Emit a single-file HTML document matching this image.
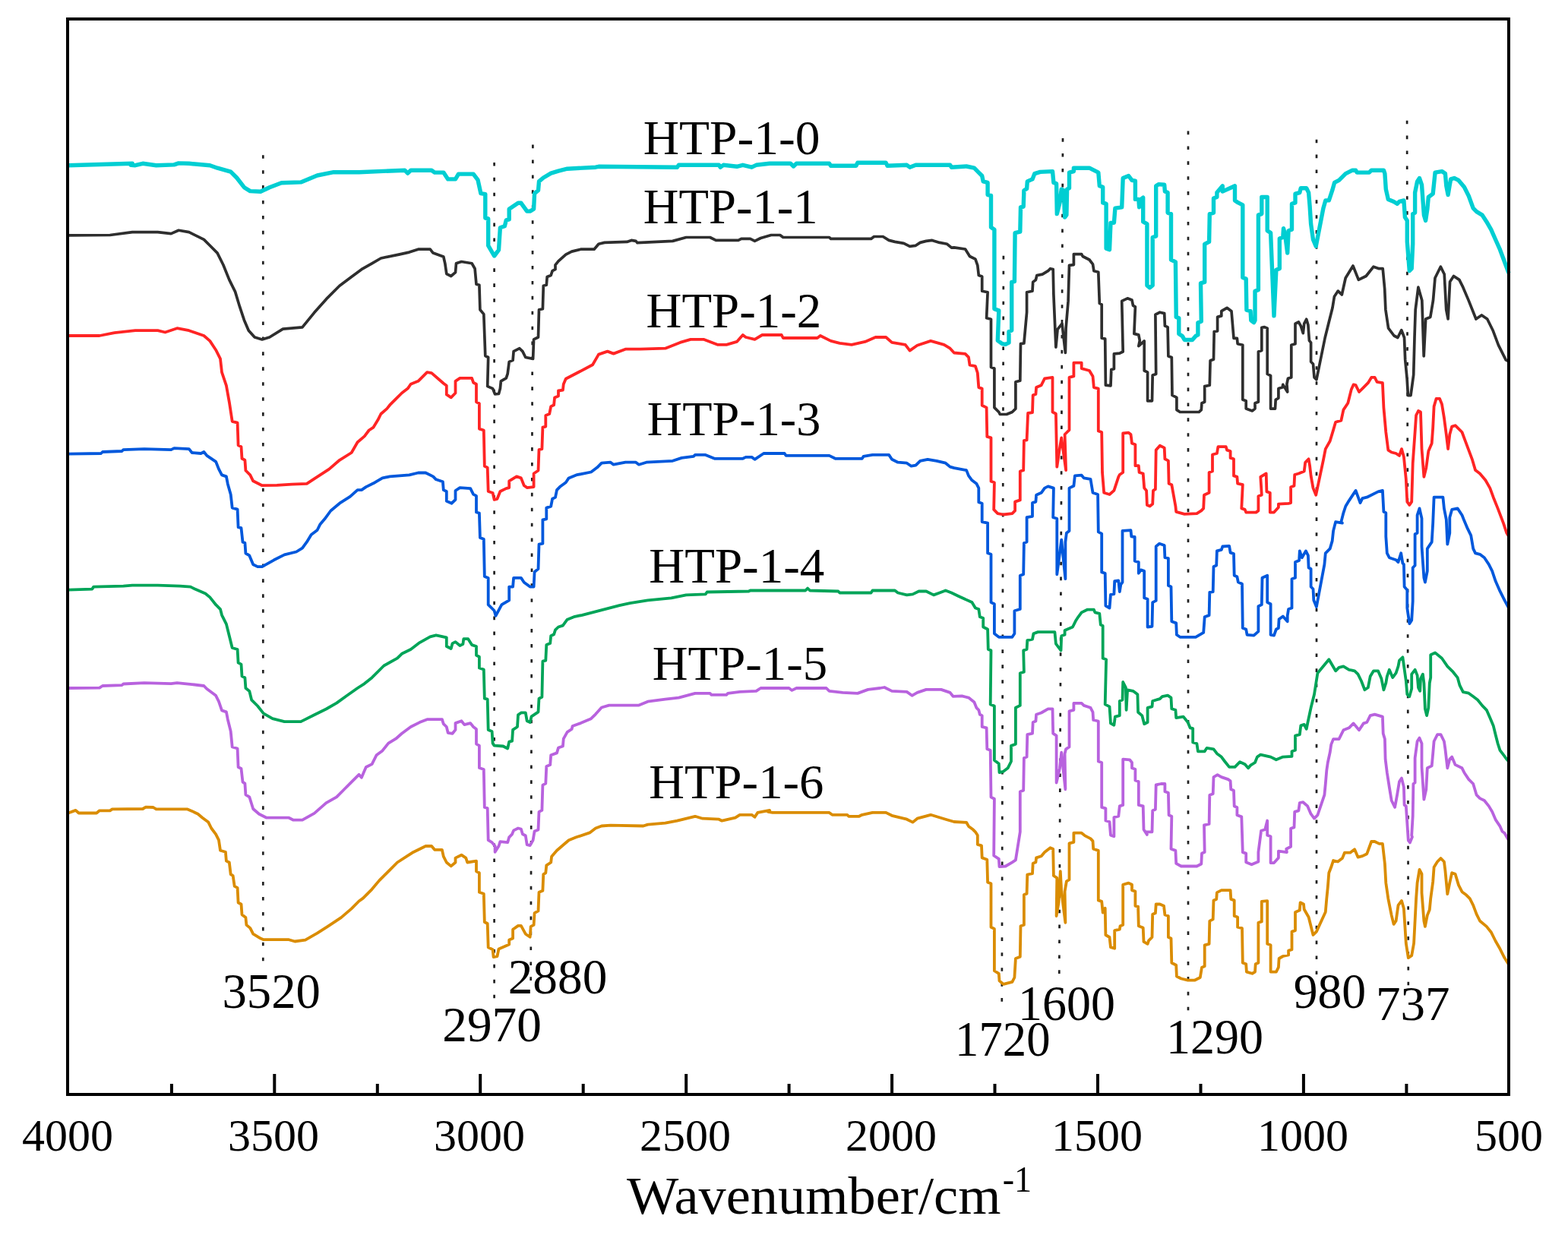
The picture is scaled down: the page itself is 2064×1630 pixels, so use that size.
<!DOCTYPE html>
<html><head><meta charset="utf-8"><title>FTIR spectra</title>
<style>html,body{margin:0;padding:0;background:#fff;} body{width:2064px;height:1630px;overflow:hidden;} svg{display:block;}</style>
</head><body>
<svg width="2064" height="1630" viewBox="0 0 2064 1630" font-family="'Liberation Serif', 'Times New Roman', serif" fill="#000"><line x1="346.3" y1="204.2" x2="346.3" y2="1265.3" stroke="#202020" stroke-width="2.7" stroke-dasharray="4.6 15.334"/>
<line x1="650.6" y1="213.9" x2="650.6" y2="1314.3" stroke="#202020" stroke-width="2.7" stroke-dasharray="4.6 15.324"/>
<line x1="701.4" y1="190.6" x2="698.7" y2="1290.9" stroke="#202020" stroke-width="2.7" stroke-dasharray="4.6 15.322"/>
<line x1="1320.9" y1="336.8" x2="1318.8" y2="1318.7" stroke="#202020" stroke-width="2.7" stroke-dasharray="4.6 15.345"/>
<line x1="1399" y1="182.1" x2="1394.3" y2="1281.9" stroke="#202020" stroke-width="2.7" stroke-dasharray="4.6 15.313"/>
<line x1="1564" y1="172.6" x2="1564" y2="1330.3" stroke="#202020" stroke-width="2.7" stroke-dasharray="4.6 15.281"/>
<line x1="1733" y1="183.7" x2="1733" y2="1283.0" stroke="#202020" stroke-width="2.7" stroke-dasharray="4.6 15.304"/>
<line x1="1852.1" y1="158.7" x2="1853.8" y2="1297.3" stroke="#202020" stroke-width="2.7" stroke-dasharray="4.6 15.295"/>
<path d="M89.8,217.7 L174.2,215.3 L172.2,217.3 L178.1,217.7 L187.9,215.3 L205.6,217.7 L229.2,216.9 L235.1,214.9 L248.8,215.3 L276.3,217.7 L286.1,221.2 L303.7,226.1 L311.6,234.0 L321.4,246.7 L329.3,251.6 L343.0,252.2 L354.8,246.7 L370.5,240.8 L396.0,239.9 L417.6,231.0 L439.2,226.7 L472.5,226.7 L532.8,224.2 L536.7,228.1 L540.7,224.2 L568.1,224.2 L572.1,227.1 L583.8,227.1 L589.7,235.9 L599.5,235.9 L603.5,229.1 L623.1,229.1 L629.0,236.9 L632.9,254.6 L638.8,255.6 L638.8,287.0 L642.7,287.9 L642.7,323.3 L650.6,337.0 L656.5,329.2 L658.4,299.7 L664.3,297.8 L666.3,289.9 L670.2,288.9 L670.2,275.2 L682.0,267.3 L685.9,267.3 L693.7,278.1 L697.7,278.1 L702.6,275.2 L703.6,254.6 L708.5,250.7 L709.5,238.9 L715.3,234.0 L725.2,228.1 L735.0,225.1 L746.7,222.2 L784.0,220.2 L788.0,219.3 L891.4,220.2 L893.4,217.3 L946.4,217.3 L948.3,220.2 L952.2,217.3 L969.9,219.3 L977.8,217.3 L989.5,220.2 L995.4,217.3 L1013.1,215.3 L1040.6,215.3 L1044.5,218.9 L1048.4,215.3 L1091.6,215.3 L1093.6,218.3 L1126.9,218.3 L1128.9,214.3 L1166.2,214.3 L1168.1,218.3 L1193.7,217.3 L1197.6,220.2 L1205.4,217.3 L1250.6,217.3 L1252.5,220.2 L1272.1,219.0 L1282.4,221.2 L1288.3,227.1 L1292.7,231.5 L1294.2,238.9 L1300.1,240.4 L1300.1,256.6 L1304.5,257.3 L1304.5,299.3 L1308.9,302.2 L1308.9,406.7 L1314.8,408.9 L1313.3,448.3 L1319.2,452.7 L1323.6,453.4 L1328.0,451.2 L1328.0,436.5 L1331.7,435.0 L1331.7,371.4 L1335.4,370.7 L1336.1,306.6 L1342.8,305.1 L1343.5,272.8 L1347.2,272.0 L1347.9,250.7 L1351.6,248.5 L1352.3,238.9 L1359.0,235.9 L1361.9,228.6 L1369.3,226.4 L1385.5,225.6 L1386.9,240.4 L1390.6,241.8 L1391.3,281.6 L1395.0,266.9 L1397.2,249.2 L1400.2,250.7 L1401.6,286.0 L1403.9,283.1 L1404.6,249.2 L1407.5,247.7 L1407.5,227.1 L1413.4,225.6 L1413.4,221.2 L1434.0,221.2 L1439.9,224.2 L1445.8,227.1 L1447.3,244.8 L1451.7,246.3 L1451.7,266.9 L1456.1,268.3 L1456.1,327.2 L1460.5,328.7 L1462.0,293.4 L1466.4,293.4 L1467.9,274.2 L1476.7,272.8 L1478.2,234.5 L1485.6,231.5 L1490.0,237.4 L1494.4,238.2 L1494.4,262.4 L1498.8,262.4 L1499.6,272.8 L1501.8,262.4 L1504.7,260.2 L1504.7,291.9 L1509.9,294.8 L1509.9,375.8 L1513.6,378.8 L1517.2,375.8 L1517.2,312.5 L1521.7,311.0 L1521.7,244.8 L1525.3,242.6 L1532.7,243.3 L1533.4,252.1 L1537.1,253.6 L1537.1,280.1 L1541.5,281.6 L1541.5,342.0 L1547.4,344.9 L1548.2,414.1 L1548.2,417.4 L1551.8,418.8 L1551.8,439.4 L1556.3,442.4 L1559.2,447.5 L1569.5,447.5 L1573.9,442.4 L1576.9,440.9 L1576.9,424.7 L1581.3,423.3 L1580.5,372.9 L1585.7,371.4 L1585.7,321.3 L1591.6,318.4 L1592.3,281.6 L1597.5,280.1 L1597.5,261.0 L1601.9,259.5 L1601.9,253.6 L1609.3,244.8 L1609.3,252.1 L1625.5,244.8 L1625.5,263.9 L1629.9,266.9 L1635.8,269.8 L1635.8,365.5 L1640.2,367.0 L1640.9,408.2 L1646.1,409.7 L1646.8,421.8 L1650.5,424.7 L1652.0,421.8 L1652.0,383.2 L1656.4,381.7 L1656.4,283.1 L1660.8,281.6 L1660.8,259.5 L1668.2,259.5 L1668.2,303.7 L1672.6,306.6 L1677.0,415.9 L1679.9,355.2 L1684.3,353.7 L1684.3,314.0 L1688.8,312.5 L1689.5,300.7 L1691.7,309.6 L1694.7,333.1 L1696.1,303.7 L1700.5,302.2 L1700.5,268.3 L1705.0,266.9 L1705.0,255.1 L1710.8,253.6 L1712.3,247.7 L1719.7,247.7 L1722.6,253.6 L1724.1,271.3 L1725.6,294.8 L1728.5,315.5 L1732.2,324.3 L1741.9,274.2 L1744.8,263.9 L1749.3,263.9 L1753.7,250.7 L1756.6,240.4 L1762.5,237.4 L1771.3,228.6 L1780.2,224.2 L1784.6,224.2 L1786.1,227.1 L1802.3,227.1 L1805.2,224.2 L1815.5,224.2 L1821.4,224.2 L1822.9,228.6 L1824.3,249.2 L1827.3,262.4 L1834.6,265.4 L1839.1,268.3 L1842.0,265.4 L1847.9,263.9 L1849.4,286.0 L1852.3,290.4 L1852.3,318.4 L1855.3,356.7 L1858.2,353.7 L1859.7,321.3 L1859.7,281.6 L1862.6,280.1 L1862.6,253.6 L1865.6,238.9 L1868.5,234.5 L1871.5,243.3 L1874.4,283.1 L1876.6,290.4 L1878.8,275.7 L1880.3,259.5 L1886.2,255.1 L1887.6,241.8 L1889.1,227.1 L1898.0,225.6 L1902.4,228.6 L1903.8,244.8 L1906.1,256.6 L1908.3,243.3 L1909.7,235.9 L1914.2,234.5 L1920.0,237.4 L1927.4,246.3 L1933.3,258.0 L1939.2,274.2 L1943.6,278.6 L1951.0,283.1 L1956.8,291.9 L1962.7,302.2 L1968.6,315.5 L1974.5,328.7 L1978.9,340.5 L1983.3,352.3 L1986.0,359.6" fill="none" stroke="#00CED2" stroke-width="5.4" stroke-linejoin="round" stroke-linecap="butt"/>
<path d="M89.8,309.9 L144.8,309.5 L174.2,305.6 L207.6,305.6 L225.2,307.6 L235.1,303.3 L248.8,305.6 L268.4,315.4 L276.3,323.3 L286.1,333.1 L293.9,348.8 L301.8,368.4 L309.6,384.1 L315.5,403.7 L321.4,421.4 L327.3,435.2 L335.2,444.0 L345.0,446.9 L354.8,444.0 L372.4,433.2 L398.0,430.8 L413.7,411.6 L429.4,393.9 L447.0,376.3 L462.7,364.5 L475.9,354.7 L489.6,346.8 L501.4,340.0 L525.0,335.1 L538.7,332.1 L550.5,328.2 L566.2,328.2 L570.1,333.1 L583.8,338.0 L585.8,346.8 L587.8,360.6 L593.7,363.5 L599.5,358.6 L600.5,346.8 L607.4,344.5 L621.1,346.8 L625.1,353.7 L627.0,374.3 L630.9,375.3 L631.9,407.7 L636.8,413.6 L638.8,468.5 L642.7,470.5 L641.7,508.6 L648.6,511.6 L651.6,519.0 L656.5,518.5 L658.4,511.6 L659.4,501.8 L666.3,497.9 L668.2,492.1 L670.2,476.4 L675.1,474.4 L676.1,462.6 L683.9,458.7 L687.9,462.6 L691.8,470.5 L701.6,472.4 L702.6,446.9 L708.5,444.0 L709.5,407.7 L714.4,406.7 L715.3,376.3 L719.3,375.3 L720.2,364.5 L725.2,362.5 L727.1,356.6 L731.0,354.7 L731.0,348.8 L735.0,343.9 L744.8,335.1 L752.6,331.1 L764.4,328.2 L782.1,328.2 L788.0,321.3 L795.8,319.4 L825.3,318.4 L831.1,316.4 L837.0,317.4 L839.0,319.7 L885.5,317.4 L903.2,312.5 L934.6,312.5 L942.4,316.4 L971.9,316.4 L975.8,314.4 L987.6,314.4 L993.5,317.4 L1001.3,313.5 L1015.1,309.5 L1026.8,309.5 L1030.8,312.5 L1091.6,312.5 L1093.6,314.4 L1146.6,314.4 L1150.5,311.5 L1162.3,311.5 L1170.1,316.4 L1178.0,318.4 L1189.7,320.3 L1197.6,324.3 L1205.4,323.3 L1211.3,319.4 L1219.2,317.4 L1227.0,316.4 L1236.8,319.4 L1246.7,321.3 L1252.5,326.2 L1255.9,325.8 L1270.6,328.0 L1276.5,337.5 L1283.9,341.2 L1286.8,349.3 L1288.3,362.6 L1292.7,364.0 L1292.7,383.2 L1300.1,384.7 L1298.6,418.8 L1304.5,420.3 L1304.5,483.6 L1308.9,485.1 L1308.9,536.6 L1314.8,542.5 L1316.3,545.5 L1325.1,545.5 L1332.4,542.5 L1336.9,538.1 L1336.9,502.8 L1342.8,501.3 L1343.5,452.7 L1347.9,452.0 L1351.6,411.2 L1351.6,384.7 L1359.0,383.2 L1359.7,371.4 L1363.4,368.5 L1364.8,362.6 L1372.2,361.1 L1379.6,356.7 L1382.5,353.7 L1386.2,354.5 L1386.9,387.6 L1389.9,457.1 L1392.1,433.6 L1398.0,426.2 L1402.4,464.5 L1403.1,432.1 L1406.1,396.4 L1407.5,349.3 L1413.4,348.6 L1413.4,334.6 L1423.7,334.6 L1425.2,337.5 L1434.0,342.0 L1438.5,347.8 L1439.9,356.7 L1445.8,358.2 L1447.3,399.4 L1450.2,400.8 L1450.2,445.3 L1454.7,446.1 L1455.4,507.2 L1462.0,507.9 L1462.8,486.6 L1466.4,485.8 L1466.4,465.9 L1473.8,465.2 L1478.2,463.0 L1476.7,396.4 L1484.1,392.8 L1490.0,395.0 L1491.5,402.3 L1494.4,403.8 L1492.9,439.4 L1498.8,440.9 L1500.3,448.3 L1498.8,455.6 L1506.2,449.0 L1506.2,488.0 L1510.6,490.2 L1510.6,527.8 L1516.5,527.8 L1517.2,493.9 L1521.7,492.4 L1520.9,414.1 L1526.8,411.2 L1532.7,412.6 L1533.4,429.1 L1537.1,430.6 L1537.9,468.9 L1542.3,470.4 L1543.0,520.4 L1548.9,523.4 L1548.9,539.6 L1553.3,542.5 L1578.3,542.5 L1581.3,539.6 L1582.0,530.7 L1585.7,529.3 L1585.7,508.6 L1592.3,507.2 L1593.1,474.8 L1597.5,473.3 L1598.2,436.5 L1602.6,435.8 L1602.6,417.4 L1607.8,415.9 L1607.8,409.7 L1615.1,405.3 L1621.0,409.7 L1624.0,445.3 L1628.4,445.3 L1629.1,452.7 L1635.8,454.2 L1635.8,526.3 L1640.2,527.8 L1640.2,538.1 L1648.3,541.0 L1652.0,538.1 L1652.0,530.7 L1656.4,529.3 L1656.4,463.0 L1660.8,461.5 L1660.8,431.3 L1664.5,430.6 L1668.2,432.1 L1668.2,492.4 L1672.6,494.7 L1672.6,538.1 L1678.5,538.1 L1679.2,526.3 L1682.9,524.1 L1682.9,511.6 L1688.0,510.1 L1688.8,506.4 L1694.7,516.0 L1693.9,505.7 L1695.4,498.3 L1699.8,496.9 L1699.8,454.2 L1705.0,452.7 L1705.0,426.2 L1709.4,424.0 L1712.3,429.1 L1715.3,438.7 L1716.7,426.2 L1719.7,420.3 L1721.9,427.7 L1723.4,448.3 L1725.6,451.2 L1725.6,476.3 L1728.5,479.2 L1730.0,496.9 L1732.9,499.8 L1744.2,444.5 L1749.1,424.8 L1754.0,405.2 L1756.4,390.5 L1761.3,383.1 L1766.3,388.0 L1771.2,366.0 L1781.0,350.0 L1788.3,368.4 L1798.2,363.5 L1808.0,351.2 L1815.3,353.7 L1820.2,353.7 L1822.7,380.7 L1823.9,407.7 L1827.6,432.2 L1835.0,442.0 L1839.9,444.5 L1844.8,434.7 L1848.5,444.5 L1849.7,473.9 L1852.1,498.5 L1853.4,520.6 L1857.0,520.6 L1860.7,493.6 L1862.0,444.5 L1863.2,407.7 L1866.9,378.2 L1871.8,395.4 L1874.2,469.0 L1876.7,420.0 L1882.8,417.5 L1886.5,395.4 L1889.0,366.0 L1896.3,351.2 L1901.2,361.0 L1903.7,407.7 L1906.1,420.0 L1908.6,370.9 L1913.5,363.5 L1920.9,368.4 L1925.8,378.2 L1933.1,395.4 L1942.9,420.0 L1950.3,415.0 L1957.7,420.0 L1965.0,434.7 L1972.4,454.3 L1982.2,473.9 L1986.0,476.0" fill="none" stroke="#2E2E2E" stroke-width="3.7" stroke-linejoin="round" stroke-linecap="butt"/>
<path d="M89.8,442.0 L131.0,442.0 L150.7,438.1 L178.1,435.2 L207.6,435.2 L217.4,437.5 L233.1,432.2 L248.8,435.2 L268.4,442.0 L276.3,448.9 L284.1,460.7 L290.0,472.4 L292.0,490.1 L297.9,507.7 L301.8,529.3 L305.7,554.8 L312.6,556.7 L313.6,586.2 L317.5,588.1 L318.5,603.8 L322.4,605.8 L323.4,619.5 L329.3,625.4 L333.2,633.3 L345.0,639.2 L364.6,638.8 L384.2,637.6 L403.8,636.8 L413.7,630.3 L433.3,617.6 L447.0,605.8 L462.7,596.0 L470.6,582.2 L479.8,574.4 L485.7,566.5 L491.6,562.6 L497.5,552.8 L501.4,545.0 L509.3,538.1 L513.2,533.2 L521.0,525.3 L528.9,517.5 L536.7,511.6 L540.7,505.7 L550.5,501.8 L562.2,490.1 L568.1,491.1 L583.8,504.7 L587.8,507.7 L587.8,519.4 L593.7,523.4 L599.5,517.5 L599.5,501.8 L605.4,497.9 L621.1,497.9 L623.1,503.7 L627.0,505.7 L627.0,529.3 L630.9,531.2 L630.9,564.6 L636.8,566.5 L637.8,613.7 L641.7,615.6 L642.7,647.0 L648.6,649.0 L650.6,657.8 L654.5,656.8 L658.4,647.0 L666.3,643.1 L670.2,642.1 L670.2,633.3 L680.0,627.4 L685.9,629.4 L689.8,639.2 L693.7,642.1 L702.6,641.1 L702.6,623.5 L708.5,619.5 L709.5,592.1 L713.4,591.1 L714.4,562.6 L718.3,561.6 L718.3,546.9 L723.2,545.0 L725.2,535.1 L729.1,533.2 L730.1,523.4 L735.0,521.4 L735.0,514.5 L740.9,513.6 L741.8,505.7 L744.8,498.8 L780.1,480.3 L788.0,466.6 L799.7,462.6 L807.6,465.6 L823.3,459.7 L842.9,459.7 L875.7,458.7 L895.3,450.9 L909.1,446.9 L926.7,446.9 L944.4,453.8 L956.2,453.8 L969.9,449.9 L977.8,441.0 L981.7,444.0 L993.5,446.9 L1003.3,441.0 L1028.8,441.0 L1030.8,445.0 L1075.9,445.0 L1079.8,442.0 L1093.6,448.9 L1105.3,451.8 L1121.0,453.8 L1138.7,449.9 L1152.4,444.0 L1166.2,444.0 L1174.0,450.9 L1191.7,453.8 L1197.6,461.6 L1207.4,454.8 L1225.1,448.9 L1242.7,453.8 L1250.6,458.7 L1255.9,464.5 L1270.6,465.9 L1275.0,470.4 L1276.5,480.7 L1283.9,482.1 L1286.8,491.0 L1288.3,510.1 L1292.7,511.6 L1292.7,533.7 L1298.6,536.6 L1299.3,574.9 L1304.5,576.4 L1304.5,633.8 L1308.9,635.3 L1308.2,670.9 L1313.3,676.1 L1320.7,677.5 L1332.4,676.1 L1336.1,672.4 L1336.1,660.6 L1342.8,658.4 L1342.8,620.5 L1347.2,619.1 L1347.9,580.1 L1351.6,579.3 L1353.1,544.0 L1359.0,543.2 L1359.7,520.4 L1363.4,519.0 L1364.1,510.1 L1370.7,507.2 L1375.1,498.3 L1385.5,496.9 L1385.5,542.5 L1389.9,544.7 L1391.3,614.7 L1394.3,594.0 L1397.2,576.4 L1403.1,619.1 L1401.6,572.0 L1404.6,569.0 L1407.5,566.1 L1407.5,496.9 L1413.4,495.4 L1413.4,477.7 L1423.7,477.7 L1423.7,485.1 L1434.0,488.0 L1438.5,495.4 L1439.9,510.1 L1445.8,511.6 L1445.8,567.5 L1450.2,569.0 L1451.0,622.0 L1453.2,648.8 L1460.5,651.0 L1466.4,645.9 L1472.3,627.9 L1473.8,625.0 L1478.2,622.0 L1478.2,570.5 L1485.6,569.7 L1488.5,572.0 L1490.0,583.7 L1494.4,585.2 L1494.4,613.2 L1498.8,613.2 L1499.6,622.0 L1504.7,623.5 L1506.2,642.6 L1509.1,645.9 L1509.9,665.0 L1513.6,666.5 L1517.2,663.6 L1518.0,645.9 L1520.9,644.1 L1521.7,592.6 L1526.8,586.7 L1532.7,589.6 L1533.4,604.3 L1537.9,606.6 L1538.6,636.7 L1542.3,638.2 L1547.4,666.5 L1548.2,673.9 L1559.2,676.8 L1575.4,676.1 L1581.3,672.4 L1584.2,669.4 L1585.0,651.8 L1591.6,648.8 L1591.6,622.0 L1596.0,620.5 L1596.0,598.5 L1601.9,597.0 L1603.4,588.2 L1613.7,588.2 L1615.1,592.6 L1619.6,594.0 L1619.6,602.9 L1624.0,604.3 L1624.0,626.4 L1628.4,627.9 L1629.1,636.7 L1635.8,638.2 L1634.3,669.4 L1638.7,670.9 L1640.2,674.6 L1653.4,674.6 L1656.4,672.4 L1656.4,653.3 L1660.8,651.8 L1659.3,627.9 L1666.7,623.5 L1667.4,647.4 L1671.8,648.8 L1671.8,674.6 L1677.0,674.6 L1682.9,668.0 L1682.9,663.6 L1696.1,662.8 L1699.1,662.1 L1699.1,641.2 L1703.5,639.7 L1704.2,625.0 L1709.4,623.5 L1716.7,620.5 L1718.2,608.8 L1722.6,604.3 L1724.1,613.2 L1725.6,626.4 L1728.5,642.6 L1732.2,651.8 L1741.9,605.8 L1744.8,591.1 L1750.7,580.8 L1755.1,566.1 L1758.1,555.8 L1765.4,553.6 L1768.4,539.6 L1774.3,530.7 L1778.7,513.1 L1781.6,506.4 L1784.6,507.2 L1789.0,516.0 L1794.9,510.1 L1800.8,504.2 L1805.2,496.9 L1809.6,496.9 L1812.6,502.8 L1819.9,504.2 L1821.4,536.6 L1824.3,569.0 L1827.3,592.6 L1831.7,595.5 L1837.6,597.0 L1842.0,599.9 L1845.0,591.1 L1847.9,601.4 L1850.8,630.8 L1852.3,660.6 L1855.3,665.0 L1858.2,660.6 L1859.7,610.2 L1862.6,569.0 L1864.1,546.9 L1867.0,541.0 L1870.0,542.5 L1871.5,591.1 L1874.4,627.9 L1877.3,616.1 L1880.3,594.0 L1884.7,583.7 L1886.2,563.1 L1887.6,535.1 L1890.6,524.8 L1895.0,524.8 L1898.0,532.2 L1900.9,549.9 L1903.8,572.0 L1906.1,591.1 L1908.3,572.0 L1911.2,561.6 L1915.6,560.2 L1924.5,569.0 L1928.9,580.8 L1933.3,592.6 L1937.7,604.3 L1942.1,619.1 L1948.0,623.5 L1955.4,632.3 L1961.3,642.6 L1965.7,654.7 L1971.6,669.4 L1978.9,688.6 L1983.3,701.8 L1986.0,706.3" fill="none" stroke="#FF2424" stroke-width="3.8" stroke-linejoin="round" stroke-linecap="butt"/>
<path d="M89.8,597.6 L133.0,597.0 L135.0,595.0 L160.5,594.0 L162.4,592.1 L189.9,591.1 L225.2,592.1 L229.2,590.1 L248.8,591.1 L252.7,596.0 L264.5,597.0 L268.4,595.0 L272.3,599.9 L284.1,607.8 L288.0,617.6 L292.0,625.4 L297.9,627.4 L299.8,637.2 L303.7,650.9 L305.7,668.6 L312.6,670.6 L313.6,694.1 L317.5,695.1 L319.5,713.7 L322.4,714.7 L323.4,728.5 L328.3,731.4 L333.2,743.2 L339.1,746.1 L345.0,746.1 L360.7,737.3 L374.4,730.4 L390.1,726.5 L398.0,721.6 L403.8,713.7 L409.7,703.9 L417.6,698.0 L421.5,690.2 L427.4,683.3 L435.3,672.5 L447.0,662.7 L460.8,653.9 L470.6,645.1 L475.9,645.1 L481.8,641.1 L493.6,635.2 L503.4,629.4 L513.2,627.4 L538.7,625.4 L550.5,622.5 L560.3,622.5 L570.1,627.4 L574.0,631.3 L582.9,634.3 L583.8,645.1 L587.8,647.0 L587.8,659.8 L594.6,662.7 L599.5,657.8 L599.5,646.0 L605.4,642.1 L619.2,643.1 L623.1,650.9 L627.0,652.9 L627.0,674.5 L630.9,675.5 L631.9,707.9 L636.8,709.8 L637.8,758.9 L642.7,760.9 L642.7,796.2 L650.6,804.0 L652.5,810.8 L660.4,796.2 L670.2,790.3 L670.2,772.6 L675.1,772.6 L676.1,760.9 L685.9,760.9 L689.8,766.7 L697.7,772.6 L702.6,772.6 L703.6,753.0 L708.5,749.1 L709.5,716.7 L714.4,715.7 L714.4,684.3 L719.3,683.3 L719.3,668.6 L725.2,666.6 L727.1,656.8 L731.0,654.9 L733.0,645.1 L736.9,641.1 L744.8,635.2 L748.7,629.4 L758.5,625.4 L778.1,621.5 L786.0,615.6 L791.9,609.7 L803.7,608.7 L807.6,611.7 L823.3,608.7 L837.0,608.7 L841.0,611.7 L850.8,608.7 L885.5,606.8 L897.3,602.9 L913.0,600.9 L915.0,598.9 L928.7,598.9 L940.5,603.8 L977.8,603.8 L981.7,601.9 L989.5,601.9 L993.5,604.8 L1005.2,597.0 L1032.7,597.0 L1034.7,599.9 L1091.6,599.9 L1099.5,603.8 L1134.8,603.8 L1136.7,600.9 L1148.5,598.9 L1170.1,598.9 L1174.0,604.8 L1181.9,608.7 L1193.7,609.7 L1199.5,613.7 L1205.4,612.7 L1211.3,606.8 L1221.1,604.8 L1232.9,606.8 L1244.7,609.7 L1250.6,614.6 L1255.9,616.1 L1272.1,619.1 L1275.0,626.4 L1279.4,632.3 L1285.3,636.7 L1288.3,642.6 L1288.3,645.9 L1288.3,661.3 L1292.7,662.8 L1292.7,687.1 L1300.1,688.6 L1300.1,728.3 L1304.5,729.8 L1304.5,793.1 L1308.9,795.3 L1308.9,834.3 L1314.8,838.8 L1332.4,838.8 L1335.4,834.3 L1335.4,804.2 L1342.8,802.0 L1342.8,757.8 L1347.2,756.3 L1347.9,715.1 L1351.6,713.6 L1351.6,681.2 L1359.0,679.8 L1359.0,662.1 L1363.4,660.6 L1364.1,651.8 L1370.7,648.8 L1375.1,642.6 L1379.6,640.4 L1386.9,642.6 L1386.2,681.2 L1391.3,682.7 L1391.3,756.3 L1395.0,728.3 L1397.2,710.7 L1402.4,762.2 L1402.4,713.6 L1403.9,701.8 L1407.5,698.9 L1407.5,642.6 L1413.4,639.7 L1414.9,626.4 L1423.7,625.7 L1426.7,629.4 L1435.5,630.8 L1438.5,648.8 L1445.1,651.0 L1445.8,700.4 L1450.2,702.6 L1450.2,753.4 L1454.7,754.8 L1455.4,797.5 L1460.5,800.5 L1462.0,782.8 L1466.4,782.1 L1467.2,765.1 L1472.3,764.4 L1473.8,779.1 L1475.3,769.6 L1477.5,766.6 L1477.5,698.9 L1488.5,698.2 L1489.3,706.3 L1493.7,707.0 L1493.7,738.6 L1498.8,740.1 L1498.8,754.8 L1501.8,750.4 L1506.2,751.9 L1506.2,787.2 L1510.6,788.7 L1510.6,825.5 L1516.5,824.8 L1517.2,793.1 L1521.7,790.9 L1521.7,719.5 L1526.1,715.8 L1532.7,718.0 L1533.4,734.2 L1537.9,735.0 L1537.9,771.0 L1541.5,772.5 L1542.3,818.2 L1548.2,820.4 L1548.9,835.8 L1553.3,838.8 L1573.9,838.8 L1584.2,832.9 L1585.7,812.3 L1591.6,810.1 L1592.3,779.9 L1596.7,779.1 L1597.5,746.0 L1601.2,744.5 L1601.9,725.4 L1607.8,723.9 L1609.3,719.5 L1618.1,718.8 L1619.6,727.6 L1624.0,729.1 L1624.7,757.8 L1628.4,759.3 L1629.9,766.6 L1635.0,768.8 L1635.8,827.0 L1640.2,828.5 L1641.6,835.8 L1650.5,836.6 L1656.4,831.4 L1656.4,798.3 L1660.8,796.1 L1661.5,760.7 L1668.2,757.8 L1668.2,793.1 L1672.6,795.3 L1672.6,835.8 L1677.0,836.6 L1679.9,828.5 L1682.9,827.0 L1683.6,815.2 L1688.8,811.5 L1694.7,818.2 L1694.7,810.8 L1696.1,802.0 L1700.5,800.5 L1700.5,762.2 L1705.0,760.7 L1705.0,740.1 L1710.1,737.9 L1710.8,725.4 L1713.8,734.2 L1718.9,725.4 L1721.9,731.3 L1722.6,747.5 L1725.6,749.0 L1725.6,772.5 L1728.5,775.5 L1729.3,790.2 L1732.9,799.0 L1743.4,743.1 L1744.8,728.3 L1750.7,722.4 L1753.7,712.1 L1755.1,698.9 L1758.1,687.1 L1766.9,688.6 L1765.4,687.1 L1768.4,675.3 L1771.3,666.5 L1775.8,659.1 L1784.6,645.9 L1790.5,662.1 L1793.4,656.2 L1799.3,654.7 L1814.0,647.4 L1819.9,645.9 L1821.4,673.9 L1824.3,675.3 L1824.3,706.3 L1825.8,728.3 L1828.8,734.2 L1837.6,737.2 L1840.5,740.1 L1844.2,728.3 L1846.4,741.6 L1847.9,743.1 L1848.6,772.5 L1852.3,776.9 L1852.3,800.5 L1855.3,821.1 L1858.2,816.7 L1859.7,791.6 L1859.7,747.5 L1862.6,744.5 L1862.6,703.3 L1865.6,701.8 L1865.6,678.3 L1868.5,669.4 L1871.5,682.7 L1871.5,719.5 L1874.4,760.7 L1875.9,766.6 L1878.8,751.9 L1878.8,722.4 L1884.7,713.6 L1886.2,688.6 L1887.6,654.7 L1899.4,654.7 L1900.9,669.4 L1903.8,684.2 L1905.3,716.6 L1908.3,701.8 L1908.3,681.2 L1911.2,670.9 L1918.6,669.4 L1924.5,678.3 L1927.4,685.6 L1931.8,695.9 L1936.2,704.8 L1939.2,722.4 L1942.1,728.3 L1948.0,729.8 L1953.9,734.2 L1959.8,743.1 L1964.2,751.9 L1968.6,765.1 L1974.5,778.4 L1980.4,790.2 L1986.0,800.5" fill="none" stroke="#0058DC" stroke-width="3.8" stroke-linejoin="round" stroke-linecap="butt"/>
<path d="M89.8,776.6 L121.2,775.6 L123.2,772.6 L162.4,771.6 L174.2,770.7 L207.6,770.7 L237.0,771.6 L250.8,772.6 L256.6,775.6 L270.4,781.5 L276.3,786.4 L284.1,796.2 L290.0,802.1 L292.0,809.8 L297.9,821.6 L301.8,837.3 L305.7,853.0 L312.6,855.0 L313.6,872.6 L317.5,874.6 L318.5,890.3 L322.4,892.2 L323.4,906.0 L328.3,909.9 L331.2,921.7 L339.1,929.5 L346.9,939.4 L358.7,946.2 L374.4,950.1 L396.0,950.1 L413.7,941.3 L429.4,933.5 L443.1,925.6 L456.8,915.8 L470.6,906.0 L479.8,900.1 L489.6,892.2 L505.3,876.5 L523.0,866.7 L528.9,860.8 L540.7,855.0 L552.4,846.1 L566.2,838.3 L574.0,836.3 L587.8,839.3 L587.8,851.0 L593.7,854.0 L595.6,847.1 L599.5,845.1 L605.4,850.0 L609.4,848.1 L610.3,841.2 L616.2,841.2 L621.1,849.1 L627.0,851.0 L627.0,862.8 L630.9,864.8 L630.9,879.5 L636.8,881.5 L637.8,919.7 L641.7,920.7 L642.7,960.9 L647.6,962.9 L648.6,978.6 L650.6,981.6 L662.3,982.5 L668.2,985.5 L670.2,976.6 L674.1,975.7 L675.1,960.9 L681.0,957.0 L682.0,941.3 L685.9,938.4 L691.8,938.4 L693.7,949.2 L697.7,951.1 L699.6,943.3 L708.5,937.4 L709.5,919.7 L713.4,917.8 L714.4,870.7 L718.3,869.7 L719.3,849.1 L724.2,847.1 L725.2,837.3 L729.1,835.3 L731.0,829.4 L735.0,825.5 L740.9,823.6 L746.7,815.7 L756.6,811.8 L766.4,809.8 L815.4,797.2 L829.2,794.2 L852.7,790.3 L883.6,787.4 L903.2,783.4 L928.7,782.4 L930.7,779.5 L985.6,778.5 L987.6,777.5 L1060.2,777.5 L1063.1,774.6 L1066.1,777.5 L1103.4,778.5 L1105.3,780.5 L1146.6,780.5 L1148.5,777.5 L1178.0,777.5 L1181.9,780.5 L1193.7,783.4 L1201.5,782.4 L1209.4,778.5 L1219.2,778.5 L1229.0,783.4 L1236.8,780.5 L1244.7,777.5 L1252.5,780.5 L1261.8,785.0 L1279.4,793.1 L1283.9,800.5 L1288.3,802.0 L1289.8,812.3 L1294.2,813.7 L1294.2,825.5 L1300.1,828.5 L1300.8,855.0 L1304.5,856.4 L1303.7,927.4 L1308.9,929.6 L1308.9,1001.0 L1314.8,1005.5 L1315.5,1017.2 L1320.7,1015.8 L1326.6,1011.3 L1331.0,1002.5 L1331.0,981.9 L1336.9,979.7 L1336.9,931.8 L1342.8,928.9 L1342.8,886.2 L1347.9,884.7 L1347.2,856.4 L1351.6,855.0 L1352.3,843.2 L1359.0,841.7 L1360.4,834.3 L1366.3,832.1 L1388.4,832.1 L1389.9,847.6 L1396.5,856.4 L1397.2,837.3 L1401.6,835.8 L1401.6,829.9 L1412.0,825.5 L1416.4,816.7 L1419.3,812.3 L1423.7,806.4 L1431.1,802.7 L1439.9,802.7 L1441.4,806.4 L1447.3,807.8 L1448.8,822.6 L1451.7,824.0 L1451.7,866.7 L1456.1,868.2 L1454.7,927.4 L1460.5,930.4 L1462.0,952.4 L1466.4,954.7 L1467.9,943.6 L1473.8,942.1 L1473.8,923.0 L1477.5,921.5 L1478.2,898.0 L1481.9,905.3 L1482.6,934.8 L1484.1,908.3 L1491.5,909.8 L1497.4,914.2 L1498.1,937.7 L1503.3,942.1 L1506.2,953.2 L1510.6,951.0 L1510.6,931.8 L1516.5,930.4 L1517.2,923.0 L1526.8,920.1 L1529.8,917.1 L1537.1,915.6 L1541.5,918.6 L1542.3,933.3 L1547.4,934.8 L1548.2,945.1 L1557.7,943.6 L1563.6,951.0 L1566.6,958.3 L1570.2,959.1 L1570.2,977.5 L1575.4,979.0 L1576.9,989.3 L1585.7,989.3 L1588.6,984.8 L1597.5,986.3 L1601.9,992.2 L1607.8,996.6 L1612.2,1002.5 L1618.1,1009.9 L1625.5,1009.9 L1632.1,1003.2 L1638.7,1006.2 L1643.1,1011.3 L1646.1,1007.7 L1652.0,1004.0 L1654.9,996.6 L1659.3,993.7 L1672.6,996.6 L1679.9,1000.3 L1688.8,996.6 L1700.5,995.9 L1700.5,989.3 L1705.0,987.8 L1705.0,968.6 L1710.8,967.2 L1712.3,955.4 L1716.7,953.9 L1719.7,959.8 L1721.2,952.4 L1725.6,931.8 L1730.0,914.2 L1734.4,886.2 L1749.3,868.2 L1758.1,883.3 L1762.5,878.8 L1768.4,877.4 L1775.8,881.8 L1783.1,883.3 L1787.5,887.7 L1791.9,896.5 L1796.4,908.3 L1800.8,905.3 L1803.7,890.6 L1808.1,883.3 L1814.0,883.3 L1818.4,893.6 L1821.4,908.3 L1824.3,899.4 L1825.8,890.6 L1828.8,881.8 L1833.2,892.1 L1837.6,886.2 L1840.5,877.4 L1842.0,869.7 L1846.4,865.3 L1850.8,896.5 L1852.3,914.2 L1855.3,917.1 L1858.2,906.8 L1858.2,887.7 L1862.6,881.8 L1865.6,889.1 L1867.0,905.3 L1869.2,909.8 L1870.0,893.6 L1872.9,887.7 L1874.4,899.4 L1875.9,933.3 L1878.1,942.1 L1880.3,931.8 L1881.8,899.4 L1883.2,892.1 L1883.2,862.3 L1889.1,859.4 L1898.0,866.7 L1905.3,877.4 L1912.7,884.7 L1918.6,892.1 L1921.5,902.4 L1925.9,911.2 L1933.3,912.7 L1939.2,917.1 L1945.1,921.5 L1951.0,928.9 L1956.8,934.8 L1961.3,945.1 L1965.7,955.4 L1968.6,967.2 L1971.6,979.0 L1974.5,987.8 L1978.9,993.7 L1983.3,999.6 L1986.0,1002.5" fill="none" stroke="#00A458" stroke-width="3.8" stroke-linejoin="round" stroke-linecap="butt"/>
<path d="M89.8,906.0 L131.0,905.6 L135.0,903.0 L160.5,902.1 L162.4,900.5 L189.9,899.1 L225.2,900.1 L233.1,899.1 L252.7,901.1 L268.4,903.0 L272.3,907.0 L284.1,915.8 L288.0,923.7 L292.0,935.4 L297.9,937.4 L299.8,947.2 L303.7,962.9 L305.7,983.5 L312.6,985.5 L313.6,1010.0 L317.5,1012.0 L319.5,1029.6 L322.4,1031.6 L323.4,1046.3 L328.3,1049.3 L333.2,1065.0 L341.0,1071.8 L350.9,1076.7 L380.3,1076.7 L386.2,1079.7 L398.0,1079.7 L413.7,1070.9 L429.4,1057.1 L443.1,1049.3 L452.9,1039.5 L462.7,1029.6 L472.5,1019.8 L475.9,1023.7 L481.8,1010.0 L489.6,1006.1 L495.5,994.3 L503.4,988.4 L511.2,978.6 L521.0,972.7 L528.9,965.8 L540.7,957.0 L552.4,951.1 L562.2,947.2 L581.9,947.2 L583.8,953.1 L587.8,957.0 L589.7,964.9 L595.6,965.8 L599.5,960.9 L599.5,952.1 L607.4,949.2 L611.3,954.1 L619.2,952.1 L623.1,957.0 L627.0,960.0 L627.0,979.6 L630.9,981.6 L630.9,1011.0 L636.8,1013.0 L637.8,1063.0 L641.7,1064.0 L642.7,1106.2 L647.6,1109.1 L651.6,1114.0 L651.6,1121.8 L656.5,1114.0 L658.4,1108.1 L668.2,1109.1 L670.2,1102.3 L674.1,1098.3 L676.1,1093.4 L682.0,1090.5 L685.9,1091.5 L687.9,1098.3 L691.8,1100.3 L693.7,1112.1 L697.7,1113.1 L701.6,1106.2 L703.6,1094.4 L708.5,1092.4 L709.5,1068.9 L713.4,1066.9 L714.4,1033.6 L718.3,1031.6 L719.3,1009.0 L724.2,1007.1 L725.2,994.3 L733.0,991.4 L735.0,984.5 L740.9,982.5 L741.8,972.7 L746.7,963.9 L752.6,960.0 L753.6,956.0 L764.4,952.1 L778.1,946.2 L784.0,940.3 L791.9,931.5 L801.7,928.6 L841.0,928.6 L852.7,923.7 L875.7,920.7 L893.4,918.7 L915.0,912.9 L934.6,912.9 L936.5,914.8 L956.2,914.8 L958.1,912.9 L973.8,910.9 L995.4,909.9 L1001.3,906.0 L1038.6,906.0 L1042.5,908.9 L1048.4,906.0 L1087.7,906.0 L1091.6,909.9 L1109.3,911.9 L1128.9,912.9 L1142.6,907.9 L1158.3,906.0 L1164.2,905.0 L1174.0,909.9 L1193.7,910.9 L1200.5,915.8 L1207.4,911.9 L1219.2,907.9 L1238.8,907.9 L1250.6,911.9 L1254.5,916.8 L1266.2,916.4 L1275.0,918.6 L1282.4,924.5 L1285.3,931.8 L1288.3,934.8 L1289.8,940.7 L1292.7,942.1 L1292.7,956.9 L1298.6,958.3 L1299.3,986.3 L1303.7,987.8 L1304.5,1049.6 L1308.9,1051.8 L1308.2,1126.5 L1314.8,1130.9 L1315.5,1141.2 L1323.6,1140.5 L1332.4,1135.3 L1336.9,1132.4 L1342.8,1095.3 L1342.8,1042.3 L1347.2,1040.8 L1347.9,998.1 L1351.6,996.6 L1352.3,967.2 L1359.0,965.7 L1359.7,951.0 L1363.4,949.5 L1364.1,940.7 L1370.7,938.5 L1379.6,933.3 L1385.5,933.3 L1386.2,965.7 L1390.6,968.6 L1390.6,1030.5 L1395.0,1011.3 L1397.2,990.7 L1402.4,1039.3 L1401.6,992.2 L1403.1,986.3 L1407.5,983.4 L1407.5,936.3 L1413.4,934.8 L1413.4,925.9 L1423.7,925.9 L1426.7,928.9 L1435.5,931.8 L1438.5,937.7 L1439.2,948.0 L1445.8,949.5 L1445.8,1002.5 L1450.2,1004.0 L1450.2,1062.9 L1455.4,1064.3 L1455.4,1080.5 L1460.5,1082.0 L1462.0,1099.7 L1466.4,1101.2 L1466.4,1076.1 L1472.3,1074.7 L1473.8,1061.4 L1478.2,1059.9 L1478.2,999.6 L1487.0,1000.3 L1490.0,1004.0 L1490.0,1011.3 L1494.4,1012.8 L1494.4,1027.5 L1498.8,1029.0 L1498.8,1059.9 L1504.7,1061.4 L1505.5,1092.3 L1509.9,1098.9 L1509.1,1095.3 L1516.5,1095.3 L1517.2,1067.3 L1520.9,1065.8 L1521.7,1033.4 L1528.3,1032.0 L1533.4,1032.0 L1533.4,1042.3 L1537.9,1043.7 L1538.6,1073.2 L1542.3,1074.7 L1541.5,1117.7 L1547.4,1119.9 L1548.2,1136.8 L1554.8,1140.5 L1575.4,1140.5 L1581.3,1137.5 L1582.0,1123.6 L1585.7,1122.1 L1585.0,1086.4 L1591.6,1085.0 L1592.3,1046.7 L1596.7,1045.2 L1597.5,1023.1 L1602.6,1020.2 L1607.8,1023.1 L1616.6,1026.1 L1619.6,1028.3 L1620.3,1039.3 L1624.0,1040.8 L1624.7,1061.4 L1628.4,1062.9 L1628.4,1073.2 L1634.3,1075.4 L1635.8,1122.1 L1640.2,1123.6 L1640.2,1135.3 L1647.5,1138.3 L1656.4,1134.6 L1656.4,1122.1 L1660.1,1093.8 L1665.2,1092.3 L1668.2,1080.5 L1668.2,1099.7 L1672.6,1101.2 L1672.6,1136.1 L1677.0,1136.1 L1682.9,1129.4 L1682.9,1120.6 L1693.9,1122.1 L1693.2,1117.7 L1699.1,1114.7 L1699.1,1090.8 L1703.5,1089.4 L1704.2,1068.8 L1709.4,1067.3 L1710.8,1057.0 L1715.3,1056.2 L1721.2,1061.4 L1725.6,1071.7 L1730.0,1077.6 L1734.4,1073.2 L1743.4,1046.7 L1744.8,1032.0 L1746.3,1014.3 L1747.8,1004.0 L1750.7,990.7 L1752.2,980.4 L1755.1,973.1 L1762.5,973.1 L1768.4,961.3 L1775.8,958.3 L1781.6,952.4 L1789.0,961.3 L1794.9,952.4 L1799.3,951.0 L1803.7,942.1 L1809.6,940.7 L1819.9,943.6 L1820.7,965.7 L1822.9,973.1 L1823.6,999.6 L1825.8,1017.2 L1828.8,1036.4 L1831.7,1054.0 L1836.1,1062.9 L1839.1,1046.7 L1842.0,1029.0 L1845.0,1024.6 L1847.9,1036.4 L1848.6,1059.9 L1850.8,1061.4 L1852.3,1083.5 L1853.8,1106.5 L1856.0,1109.4 L1858.9,1102.1 L1858.2,1099.7 L1859.7,1074.7 L1860.4,1032.0 L1862.6,1030.5 L1862.6,998.1 L1865.6,976.0 L1868.5,971.6 L1871.5,979.0 L1871.5,1009.9 L1874.4,1052.6 L1877.3,1039.3 L1878.8,1011.3 L1884.7,1008.4 L1886.2,992.2 L1887.6,976.0 L1892.1,967.2 L1896.5,967.2 L1900.9,976.0 L1902.4,986.3 L1905.3,1011.3 L1908.3,999.6 L1911.2,996.6 L1915.6,1006.9 L1924.5,1011.3 L1927.4,1017.2 L1933.3,1026.1 L1939.2,1032.0 L1943.6,1046.7 L1948.0,1051.1 L1953.9,1054.0 L1959.8,1061.4 L1964.2,1068.8 L1968.6,1079.1 L1974.5,1087.9 L1977.5,1094.7 L1980.4,1096.7 L1986.0,1106.5" fill="none" stroke="#B862DE" stroke-width="3.8" stroke-linejoin="round" stroke-linecap="butt"/>
<path d="M89.8,1070.5 L99.6,1066.9 L103.6,1070.5 L127.1,1070.5 L131.0,1067.3 L144.8,1067.3 L147.7,1065.4 L187.9,1065.0 L191.9,1062.6 L201.7,1063.0 L205.6,1065.4 L246.8,1065.4 L252.7,1067.9 L260.6,1071.8 L266.5,1076.7 L274.3,1082.6 L278.2,1090.5 L284.1,1098.3 L288.0,1106.2 L290.0,1119.8 L296.9,1121.8 L297.9,1133.6 L301.8,1135.5 L303.7,1151.2 L306.7,1153.2 L308.7,1166.9 L312.6,1168.9 L313.6,1188.5 L317.5,1190.5 L318.5,1204.2 L323.4,1208.1 L324.4,1217.9 L329.3,1221.9 L333.2,1229.7 L343.0,1235.6 L346.9,1237.2 L380.3,1237.2 L388.1,1239.5 L401.9,1237.6 L417.6,1228.7 L431.3,1219.9 L449.0,1208.1 L462.7,1196.4 L472.5,1186.5 L477.9,1182.6 L489.6,1170.8 L499.4,1159.1 L511.2,1147.3 L523.0,1135.5 L536.7,1126.7 L542.6,1122.8 L560.3,1114.0 L568.1,1114.0 L572.1,1118.8 L581.9,1118.8 L583.8,1127.7 L587.8,1135.5 L593.7,1140.4 L599.5,1135.5 L599.5,1129.6 L607.4,1125.7 L613.3,1129.6 L615.2,1135.5 L627.0,1133.6 L627.0,1147.3 L630.9,1149.3 L630.9,1174.8 L636.8,1176.7 L637.8,1214.0 L641.7,1216.0 L642.7,1247.4 L648.6,1250.3 L649.6,1260.1 L654.5,1259.2 L656.5,1249.4 L670.2,1243.5 L670.2,1237.6 L675.1,1235.6 L675.1,1223.8 L682.0,1218.9 L685.9,1218.9 L691.8,1229.7 L697.7,1233.7 L698.7,1219.9 L702.6,1217.9 L703.6,1202.2 L708.5,1199.3 L709.5,1174.8 L714.4,1172.8 L715.3,1151.2 L718.3,1149.3 L719.3,1139.4 L725.2,1135.5 L726.1,1127.7 L733.0,1119.8 L748.7,1106.2 L758.5,1102.3 L776.2,1096.4 L784.0,1090.5 L791.9,1087.5 L803.7,1086.6 L846.8,1087.5 L852.7,1085.6 L875.7,1083.6 L891.4,1080.7 L915.0,1074.8 L924.8,1077.7 L946.4,1078.7 L950.3,1080.7 L967.9,1076.7 L973.8,1072.8 L989.5,1072.8 L993.5,1075.8 L997.4,1069.9 L1013.1,1066.9 L1011.1,1068.9 L1017.0,1069.9 L1091.6,1069.9 L1095.5,1072.8 L1115.2,1072.8 L1117.1,1074.8 L1130.9,1074.8 L1134.8,1072.8 L1148.5,1069.9 L1166.2,1069.9 L1174.0,1073.8 L1193.7,1078.7 L1201.5,1082.6 L1207.4,1077.7 L1225.1,1072.8 L1244.7,1078.7 L1255.9,1082.0 L1272.1,1082.8 L1275.0,1087.9 L1280.9,1092.3 L1283.9,1095.3 L1286.8,1099.7 L1286.8,1111.8 L1292.0,1113.3 L1292.7,1129.4 L1299.3,1131.7 L1300.1,1161.8 L1304.5,1163.3 L1304.5,1220.7 L1308.9,1222.9 L1308.9,1278.2 L1314.8,1281.8 L1315.5,1291.4 L1320.7,1295.8 L1332.4,1292.9 L1335.4,1287.0 L1336.9,1262.0 L1342.8,1259.7 L1343.5,1219.3 L1347.9,1217.8 L1347.9,1178.0 L1351.6,1176.6 L1352.3,1151.5 L1359.0,1150.1 L1359.7,1136.8 L1363.4,1135.3 L1364.1,1129.4 L1370.7,1127.2 L1375.1,1122.1 L1382.5,1116.2 L1386.2,1117.7 L1386.9,1153.0 L1391.3,1155.9 L1390.6,1206.0 L1393.6,1188.3 L1395.8,1147.1 L1397.2,1173.6 L1402.4,1214.8 L1401.6,1173.6 L1403.9,1160.4 L1407.5,1158.2 L1407.5,1110.3 L1413.4,1108.8 L1413.4,1096.7 L1423.7,1096.7 L1428.2,1100.4 L1435.5,1104.1 L1438.5,1107.4 L1439.2,1117.7 L1445.8,1119.9 L1445.8,1185.4 L1450.2,1186.9 L1451.7,1201.6 L1454.7,1195.7 L1455.4,1231.0 L1460.5,1234.0 L1462.0,1247.2 L1467.2,1248.7 L1467.2,1225.1 L1473.8,1223.7 L1474.5,1219.3 L1478.2,1217.8 L1478.2,1164.8 L1485.6,1162.6 L1490.0,1164.8 L1490.0,1172.1 L1494.4,1173.6 L1494.4,1192.8 L1498.1,1193.5 L1498.8,1219.3 L1504.7,1221.5 L1505.5,1239.9 L1510.6,1242.8 L1512.1,1238.4 L1516.5,1234.0 L1517.2,1203.8 L1520.9,1202.3 L1521.7,1190.5 L1526.8,1190.5 L1532.0,1192.8 L1533.4,1204.5 L1537.9,1206.0 L1537.9,1234.0 L1541.5,1235.5 L1542.3,1267.8 L1548.2,1270.8 L1548.9,1285.5 L1554.8,1288.5 L1563.6,1290.7 L1572.4,1290.7 L1579.8,1287.0 L1582.0,1273.7 L1585.7,1272.3 L1585.7,1244.3 L1591.6,1242.8 L1592.3,1212.6 L1596.7,1210.4 L1597.5,1185.4 L1601.2,1183.9 L1601.9,1175.1 L1607.8,1172.1 L1619.6,1172.1 L1620.3,1183.9 L1624.7,1185.4 L1624.7,1206.0 L1629.1,1207.5 L1629.1,1220.7 L1635.0,1222.2 L1635.8,1267.8 L1640.2,1269.3 L1640.9,1279.6 L1648.3,1281.8 L1652.0,1279.6 L1652.7,1269.3 L1656.4,1267.8 L1656.4,1214.8 L1660.8,1213.4 L1660.8,1186.9 L1668.2,1186.1 L1668.2,1242.8 L1672.6,1244.3 L1672.6,1279.6 L1679.9,1279.6 L1682.9,1273.7 L1683.6,1262.0 L1688.8,1259.0 L1696.1,1257.5 L1696.1,1251.6 L1700.5,1250.2 L1700.5,1226.6 L1705.0,1225.1 L1705.0,1200.9 L1710.8,1198.6 L1711.6,1188.3 L1716.0,1190.5 L1716.7,1197.2 L1722.6,1207.5 L1728.5,1231.0 L1732.9,1226.6 L1744.8,1200.7 L1746.3,1183.1 L1747.8,1168.3 L1749.3,1149.2 L1752.2,1141.8 L1755.1,1133.0 L1761.0,1134.5 L1766.9,1130.1 L1769.9,1122.7 L1777.2,1122.7 L1783.1,1118.3 L1787.5,1128.6 L1793.4,1127.1 L1799.3,1124.2 L1805.2,1108.0 L1809.6,1108.0 L1815.5,1110.9 L1819.9,1110.9 L1821.4,1124.2 L1822.9,1137.4 L1824.3,1162.4 L1827.3,1183.1 L1831.7,1205.1 L1834.6,1216.9 L1837.6,1212.5 L1840.5,1191.9 L1845.0,1186.0 L1847.9,1196.3 L1849.4,1219.9 L1850.8,1242.0 L1853.8,1261.1 L1858.2,1258.2 L1861.1,1242.0 L1862.6,1212.5 L1864.1,1183.1 L1865.6,1162.4 L1868.5,1144.8 L1871.5,1150.7 L1871.5,1175.7 L1874.4,1212.5 L1875.9,1219.9 L1878.8,1205.1 L1881.8,1197.8 L1883.2,1183.1 L1886.2,1161.0 L1887.6,1141.8 L1892.1,1134.5 L1896.5,1130.1 L1900.9,1134.5 L1902.4,1146.3 L1905.3,1177.2 L1908.3,1162.4 L1911.2,1149.2 L1915.6,1150.7 L1920.0,1165.4 L1924.5,1174.2 L1930.3,1178.6 L1934.8,1183.1 L1939.2,1191.9 L1943.6,1203.7 L1948.0,1212.5 L1956.8,1219.9 L1962.7,1227.2 L1968.6,1239.0 L1974.5,1249.3 L1980.4,1261.1 L1986.0,1269.9" fill="none" stroke="#DA8C00" stroke-width="3.8" stroke-linejoin="round" stroke-linecap="butt"/>
<rect x="89" y="25" width="1897" height="1416" fill="none" stroke="#000" stroke-width="4"/>
<line x1="1986.0" y1="1414" x2="1986.0" y2="1441" stroke="#000" stroke-width="4"/>
<text x="1986.0" y="1515" font-size="60" text-anchor="middle">500</text>
<line x1="1851.4" y1="1427" x2="1851.4" y2="1441" stroke="#000" stroke-width="4"/>
<line x1="1715.9" y1="1414" x2="1715.9" y2="1441" stroke="#000" stroke-width="4"/>
<text x="1715.0" y="1515" font-size="60" text-anchor="middle">1000</text>
<line x1="1580.5" y1="1427" x2="1580.5" y2="1441" stroke="#000" stroke-width="4"/>
<line x1="1445.0" y1="1414" x2="1445.0" y2="1441" stroke="#000" stroke-width="4"/>
<text x="1444.0" y="1515" font-size="60" text-anchor="middle">1500</text>
<line x1="1309.5" y1="1427" x2="1309.5" y2="1441" stroke="#000" stroke-width="4"/>
<line x1="1174.1" y1="1414" x2="1174.1" y2="1441" stroke="#000" stroke-width="4"/>
<text x="1173.0" y="1515" font-size="60" text-anchor="middle">2000</text>
<line x1="1038.6" y1="1427" x2="1038.6" y2="1441" stroke="#000" stroke-width="4"/>
<line x1="903.2" y1="1414" x2="903.2" y2="1441" stroke="#000" stroke-width="4"/>
<text x="902.0" y="1515" font-size="60" text-anchor="middle">2500</text>
<line x1="767.7" y1="1427" x2="767.7" y2="1441" stroke="#000" stroke-width="4"/>
<line x1="632.2" y1="1414" x2="632.2" y2="1441" stroke="#000" stroke-width="4"/>
<text x="631.0" y="1515" font-size="60" text-anchor="middle">3000</text>
<line x1="496.8" y1="1427" x2="496.8" y2="1441" stroke="#000" stroke-width="4"/>
<line x1="361.3" y1="1414" x2="361.3" y2="1441" stroke="#000" stroke-width="4"/>
<text x="360.0" y="1515" font-size="60" text-anchor="middle">3500</text>
<line x1="225.9" y1="1427" x2="225.9" y2="1441" stroke="#000" stroke-width="4"/>
<line x1="89.0" y1="1414" x2="89.0" y2="1441" stroke="#000" stroke-width="4"/>
<text x="89.0" y="1515" font-size="60" text-anchor="middle">4000</text>
<text transform="translate(846.85,203.34) scale(0.9769,0.9565)" font-size="67">HTP-1-0</text>
<text transform="translate(846.87,293.90) scale(0.9642,0.9909)" font-size="67">HTP-1-1</text>
<text transform="translate(850.56,430.80) scale(0.9691,0.9667)" font-size="67">HTP-1-2</text>
<text transform="translate(851.78,573.16) scale(0.9598,0.9370)" font-size="67">HTP-1-3</text>
<text transform="translate(854.36,766.50) scale(0.9698,0.9705)" font-size="67">HTP-1-4</text>
<text transform="translate(858.76,895.25) scale(0.9679,0.9489)" font-size="67">HTP-1-5</text>
<text transform="translate(854.37,1051.35) scale(0.9658,0.9522)" font-size="67">HTP-1-6</text>
<text transform="translate(292.51,1326.91) scale(0.9960,0.9932)" font-size="65">3520</text>
<text transform="translate(668.69,1308.21) scale(1.0048,0.9932)" font-size="65">2880</text>
<text transform="translate(582.29,1370.99) scale(1.0048,1.0136)" font-size="65">2970</text>
<text transform="translate(1257.11,1389.50) scale(0.9648,1.0000)" font-size="65">1720</text>
<text transform="translate(1339.99,1343.19) scale(0.9844,1.0068)" font-size="65">1600</text>
<text transform="translate(1534.89,1387.20) scale(0.9852,1.0023)" font-size="65">1290</text>
<text transform="translate(1702.64,1327.10) scale(0.9796,1.0000)" font-size="65">980</text>
<text transform="translate(1811.10,1342.62) scale(1.0000,0.9795)" font-size="65">737</text>
<text transform="translate(824.90,1597.94) scale(0.9915,0.9604)" font-size="73">Wavenumber/cm</text>
<text transform="translate(1319.67,1568.80) scale(0.9629,1.0063)" font-size="48">-1</text></svg>
</body></html>
